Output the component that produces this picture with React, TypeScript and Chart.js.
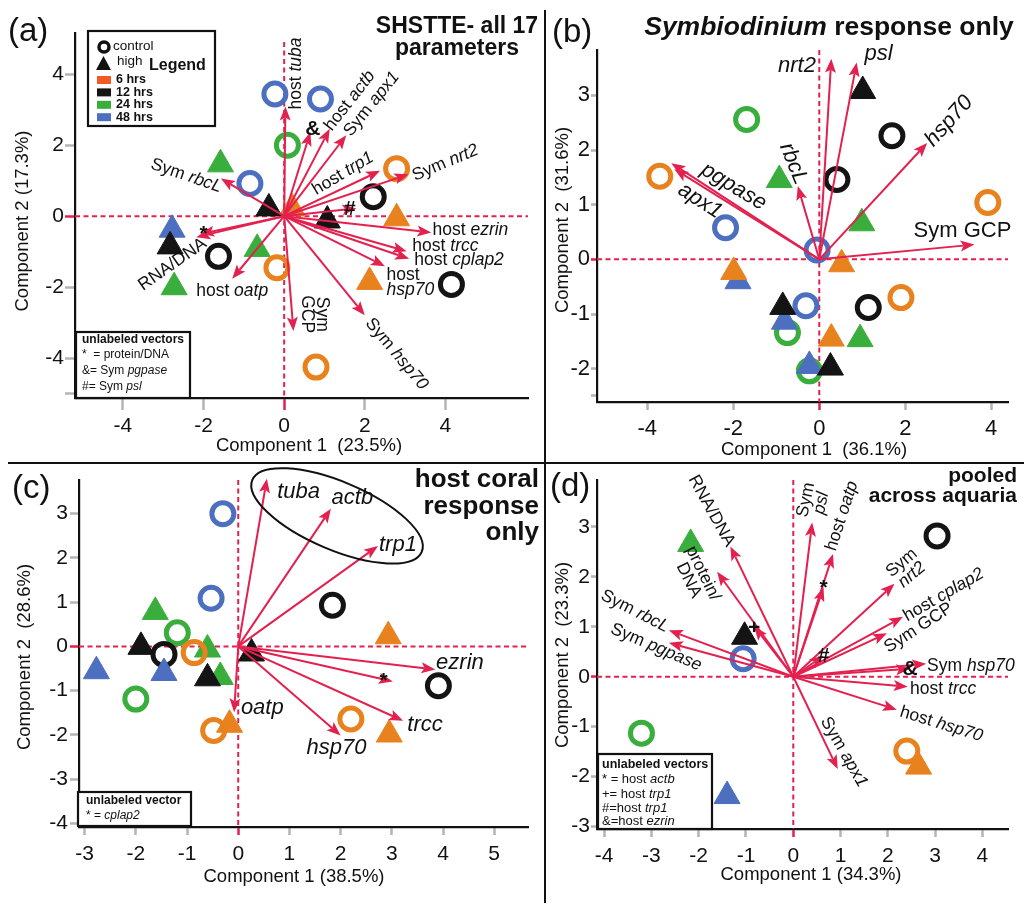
import React, { useEffect, useRef } from 'react';
import { Chart, registerables } from 'chart.js';

Chart.register(...registerables);

const FONT = "'Liberation Sans', Arial, Helvetica, sans-serif";
const RED = '#E3214F';
const INK = '#111111';
const TICK_GRAY = '#b4b4b4';
const HOUR_COLOR: Record<number, string> = { 6: '#E8821E', 12: '#141414', 24: '#3AAE3C', 48: '#4D6FC0' };
const LEGEND_HOURS = [6, 12, 24, 48];
const LEGEND_SWATCH: Record<number, string> = { 6: '#F15A24', 12: '#141414', 24: '#3AAE3C', 48: '#4D6FC0' };

type Pt = [number, number, number];
type Vec = [string, number, number];
type Lbl = [string, number, number, number, ('c' | 'l' | 'r')?];
type Sym = [string, number, number];

// ---------------- Panel (a) ----------------
const A_X_TICKS = [-4, -2, 0, 2, 4];
const A_Y_TICKS = [-4, -2, 0, 2, 4];
const A_Y_MINOR = [-5];
const A_CONTROL: Pt[] = [
  [-0.23, 3.44, 48], [0.9, 3.3, 48], [-0.85, 0.92, 48],
  [0.08, 2.0, 24],
  [2.79, 1.34, 6], [-0.18, -1.45, 6], [0.79, -4.25, 6],
  [2.21, 0.55, 12], [-1.63, -1.13, 12], [4.15, -1.92, 12],
];
const A_HIGH: Pt[] = [
  [-1.58, 1.46, 24], [-0.67, -0.92, 24], [-2.73, -2.0, 24],
  [-2.78, -0.38, 48],
  [-2.83, -0.85, 12], [-0.38, 0.22, 12], [1.07, -0.12, 12],
  [2.79, -0.06, 6], [2.12, -1.85, 6], [0.2, 0.22, 6],
];
const A_VECTORS: Vec[] = [
  ['host tuba', 0.03, 3.09], ['host actb', 1.13, 2.46], ['Sym pgpase', 0.65, 2.37],
  ['Sym apx1', 1.54, 2.28], ['host trp1', 2.38, 1.28], ['Sym nrt2', 3.08, 1.18],
  ['Sym psl', 1.79, 0.22], ['host ezrin', 3.65, -0.46], ['host trcc', 3.04, -0.99],
  ['host cplap2', 3.1, -1.2], ['host hsp70', 2.5, -1.41], ['Sym hsp70', 2.0, -2.79],
  ['Sym GCP', 0.23, -3.23], ['host oatp', -1.29, -1.76], ['RNA/DNA', -2.18, -0.59],
  ['protein/DNA', -2.08, -0.5], ['Sym rbcL', -1.57, 1.06],
];
const A_LABELS: Lbl[] = [
  ['host _tuba_', 0.29, 4.02, -90], ['host _actb_', 1.63, 3.25, -52], ['Sym _apx1_', 2.17, 3.16, -51],
  ['host _trp1_', 1.46, 1.2, -31], ['Sym _nrt2_', 4.0, 1.5, -23],
  ['host _ezrin_', 3.68, -0.38, 0, 'l'], ['host _trcc_', 3.18, -0.83, 0, 'l'],
  ['host _cplap2_', 3.23, -1.24, 0, 'l'], ['host\n_hsp70_', 2.54, -1.87, 0, 'l'],
  ['Sym _hsp70_', 2.79, -3.88, 50], ['Sym\nGCP', 0.75, -2.76, 90], ['host _oatp_', -1.29, -2.11, 0],
  ['RNA/DNA', -2.77, -1.36, -35], ['Sym _rbcL_', -2.43, 1.14, 19],
];
const A_SYMBOLS: Sym[] = [['&', 0.71, 2.46], ['#', 1.63, 0.2], ['*', -2.0, -0.52]];

// ---------------- Panel (b) ----------------
const B_X_TICKS = [-4, -2, 0, 2, 4];
const B_Y_TICKS = [-2, -1, 0, 1, 2, 3];
const B_Y_MINOR = [-2.5];
const B_CONTROL: Pt[] = [
  [-1.69, 2.56, 24], [-3.71, 1.52, 6], [1.69, 2.26, 12], [0.41, 1.46, 12], [3.92, 1.04, 6],
  [-2.18, 0.58, 48], [-0.05, 0.17, 48], [-0.31, -0.85, 48], [1.14, -0.88, 12], [1.9, -0.7, 6],
  [-0.74, -1.34, 24], [-0.23, -2.04, 24],
];
const B_HIGH: Pt[] = [
  [1.01, 3.08, 12], [-0.93, 1.45, 24], [0.99, 0.66, 24], [0.52, -0.09, 6], [-1.99, -0.23, 6],
  [-1.89, -0.4, 48], [-0.85, -0.87, 12], [-0.81, -1.14, 48], [0.28, -1.45, 6], [0.95, -1.46, 24],
  [-0.23, -1.95, 48], [0.26, -1.98, 12],
];
const B_VECTORS: Vec[] = [
  ['nrt2', 0.28, 3.67], ['psl', 0.87, 3.6], ['hsp70', 2.51, 2.13], ['Sym GCP', 3.61, 0.27],
  ['rbcL', -0.5, 1.34], ['pgpase', -3.44, 1.76], ['apx1', -3.37, 1.65],
];
const B_LABELS: Lbl[] = [
  ['_nrt2_', -0.52, 3.54, 0], ['_psl_', 1.38, 3.75, 0], ['_hsp70_', 3.02, 2.53, -48],
  ['Sym GCP', 3.33, 0.52, 0], ['_rbcL_', -0.6, 1.75, 68], ['_pgpase_', -1.99, 1.33, 31],
  ['_apx1_', -2.77, 1.07, 33],
];

// ---------------- Panel (c) ----------------
const C_X_TICKS = [-3, -2, -1, 0, 1, 2, 3, 4, 5];
const C_Y_TICKS = [-4, -3, -2, -1, 0, 1, 2, 3];
const C_CONTROL: Pt[] = [
  [-0.3, 3.0, 48], [-0.53, 1.09, 48], [1.84, 0.93, 12], [-1.19, 0.31, 24], [-0.86, -0.14, 6],
  [-1.45, -0.18, 12], [-2.0, -1.19, 24], [-0.48, -1.9, 6], [2.2, -1.64, 6], [3.91, -0.89, 12],
];
const C_HIGH: Pt[] = [
  [-1.62, 0.78, 24], [-1.9, -0.01, 12], [-2.77, -0.56, 48], [-1.45, -0.6, 48], [-0.6, -0.07, 24],
  [-0.35, -0.69, 24], [-0.6, -0.72, 12], [0.26, -0.16, 12], [2.93, 0.23, 6], [2.95, -1.99, 6],
  [-0.17, -1.77, 6],
];
const C_VECTORS: Vec[] = [
  ['tuba', 0.56, 3.79], ['actb', 1.81, 3.11], ['trp1', 2.73, 2.27], ['ezrin', 3.85, -0.52],
  ['cplap2', 3.02, -0.79], ['trcc', 3.22, -1.68], ['hsp70', 2.0, -2.01], ['oatp', -0.08, -1.49],
];
const C_LABELS: Lbl[] = [
  ['_tuba_', 1.18, 3.49, 0], ['_actb_', 2.23, 3.35, 0], ['_trp1_', 3.12, 2.3, 0],
  ['_ezrin_', 4.33, -0.37, 0], ['_trcc_', 3.65, -1.77, 0], ['_hsp70_', 1.92, -2.3, 0],
  ['_oatp_', 0.47, -1.38, 0],
];
const C_SYMBOLS: Sym[] = [['*', 2.84, -0.78]];
const C_ELLIPSE_CENTER = [1.93, 2.95];

// ---------------- Panel (d) ----------------
const D_X_TICKS = [-4, -3, -2, -1, 0, 1, 2, 3, 4];
const D_Y_TICKS = [-3, -2, -1, 0, 1, 2, 3];
const D_CONTROL: Pt[] = [[3.04, 2.82, 12], [-1.06, 0.36, 48], [-3.21, -1.13, 24], [2.4, -1.49, 6]];
const D_HIGH: Pt[] = [[-2.17, 2.66, 24], [-1.03, 0.8, 12], [2.65, -1.8, 6], [-1.4, -2.39, 48]];
const D_VECTORS: Vec[] = [
  ['RNA/DNA', -1.33, 2.61], ['protein/DNA', -1.61, 2.1], ['Sym rbcL', -2.63, 0.93],
  ['Sym pgpase', -2.63, 0.68], ['host trp1', -0.83, 1.01], ['Sym psl', 0.4, 3.09],
  ['host oatp', 0.84, 2.46], ['host actb', 0.64, 1.79], ['Sym nrt2', 2.14, 1.86],
  ['host cplap2', 2.32, 1.2], ['Sym GCP', 1.98, 0.87], ['host tuba', 0.64, 0.42],
  ['host ezrin', 2.47, 0.16], ['Sym hsp70', 2.81, 0.26], ['host trcc', 2.42, -0.2],
  ['host hsp70', 2.19, -0.66], ['Sym apx1', 0.94, -1.85],
];
const D_LABELS: Lbl[] = [
  ['RNA/DNA', -1.73, 3.32, 61], ['protein/\nDNA', -2.06, 2.0, 64], ['Sym _rbcL_', -3.35, 1.31, 27],
  ['Sym _pgpase_', -2.9, 0.59, 23], ['Sym\n_psl_', 0.43, 3.51, -78], ['host _oatp_', 1.03, 3.22, -72],
  ['Sym\n_nrt2_', 2.4, 2.16, -40], ['host _cplap2_', 3.18, 1.64, -30], ['Sym GCP', 2.65, 0.98, -33],
  ['Sym _hsp70_', 2.83, 0.22, 0, 'l'], ['host _trcc_', 2.47, -0.24, 0, 'l'],
  ['host _hsp70_', 3.13, -0.95, 17], ['Sym _apx1_', 1.07, -1.51, 60],
];
const D_SYMBOLS: Sym[] = [['*', 0.64, 1.77], ['+', -0.83, 0.98], ['#', 0.64, 0.41], ['&', 2.47, 0.16]];

// ---------------- drawing helpers ----------------
function fontStr(size: number, italic: boolean, bold: boolean) {
  return `${italic ? 'italic ' : ''}${bold ? 'bold ' : ''}${size}px ${FONT}`;
}

function drawRich(
  ctx: CanvasRenderingContext2D, text: string, x: number, y: number, rot: number, size: number,
  align: 'c' | 'l' | 'r' = 'c', bold = false, color = INK, lineH = 0.9,
) {
  ctx.save();
  ctx.translate(x, y);
  ctx.rotate((rot * Math.PI) / 180);
  ctx.fillStyle = color;
  ctx.textBaseline = 'middle';
  ctx.textAlign = 'left';
  const lines = text.split('\n');
  const n = lines.length;
  lines.forEach((line, j) => {
    const segs = line.split('_').map((t, k) => ({ t, it: k % 2 === 1 })).filter((s) => s.t.length > 0);
    let total = 0;
    const widths = segs.map((s) => {
      ctx.font = fontStr(size, s.it, bold);
      const w = ctx.measureText(s.t).width;
      total += w;
      return w;
    });
    let cx = align === 'c' ? -total / 2 : align === 'r' ? -total : 0;
    const cy = (j - (n - 1) / 2) * size * lineH;
    segs.forEach((s, k) => {
      ctx.font = fontStr(size, s.it, bold);
      ctx.fillText(s.t, cx, cy);
      cx += widths[k];
    });
  });
  ctx.restore();
}

function drawArrow(ctx: CanvasRenderingContext2D, x0: number, y0: number, x1: number, y1: number) {
  const dx = x1 - x0;
  const dy = y1 - y0;
  const len = Math.hypot(dx, dy);
  if (len < 2) return;
  const ux = dx / len;
  const uy = dy / len;
  const hl = Math.min(14, len * 0.6);
  const hw = 5.5;
  const bx = x1 - ux * hl;
  const by = y1 - uy * hl;
  ctx.strokeStyle = RED;
  ctx.lineWidth = 2;
  ctx.setLineDash([]);
  ctx.beginPath();
  ctx.moveTo(x0, y0);
  ctx.lineTo(bx + ux * 3, by + uy * 3);
  ctx.stroke();
  ctx.fillStyle = RED;
  ctx.beginPath();
  ctx.moveTo(x1, y1);
  ctx.lineTo(bx - uy * hw, by + ux * hw);
  ctx.lineTo(bx + ux * 3, by + uy * 3);
  ctx.lineTo(bx + uy * hw, by - ux * hw);
  ctx.closePath();
  ctx.fill();
}

function frameBox(ctx: CanvasRenderingContext2D, l: number, t: number, r: number, b: number) {
  ctx.save();
  ctx.fillStyle = '#ffffff';
  ctx.fillRect(l, t, r - l, b - t);
  ctx.strokeStyle = INK;
  ctx.lineWidth = 2.2;
  ctx.setLineDash([]);
  ctx.strokeRect(l, t, r - l, b - t);
  ctx.restore();
}

function decorateA(ctx: CanvasRenderingContext2D) {
  drawRich(ctx, '(a)', 8, 32, 0, 33, 'l');
  drawRich(ctx, 'SHSTTE- all 17', 457, 27, 0, 23, 'c', true);
  drawRich(ctx, 'parameters', 457, 49, 0, 23, 'c', true);
  // legend
  frameBox(ctx, 88, 31, 215, 126);
  ctx.save();
  ctx.strokeStyle = INK;
  ctx.lineWidth = 3.5;
  ctx.beginPath();
  ctx.arc(104, 47, 5, 0, Math.PI * 2);
  ctx.stroke();
  ctx.fillStyle = INK;
  ctx.beginPath();
  ctx.moveTo(103.5, 56);
  ctx.lineTo(96, 70);
  ctx.lineTo(111, 70);
  ctx.closePath();
  ctx.fill();
  ctx.restore();
  drawRich(ctx, 'control', 113, 46, 0, 13.5, 'l');
  drawRich(ctx, 'high', 117, 61, 0, 13.5, 'l');
  drawRich(ctx, 'Legend', 149, 66, 0, 16, 'l', true);
  LEGEND_HOURS.forEach((h, i) => {
    const yy = 80 + i * 12.4;
    ctx.fillStyle = LEGEND_SWATCH[h];
    ctx.fillRect(97, yy - 4, 14, 8);
    drawRich(ctx, `${h} hrs`, 116, yy, 0, 12.5, 'l', true);
  });
  // unlabeled vectors box
  frameBox(ctx, 76, 332, 190, 398);
  drawRich(ctx, 'unlabeled vectors', 82, 340, 0, 12, 'l', true);
  drawRich(ctx, '*  = protein/DNA', 82, 355, 0, 12, 'l');
  drawRich(ctx, '&= Sym _pgpase_', 82, 371, 0, 12, 'l');
  drawRich(ctx, '#= Sym _psl_', 82, 387, 0, 12, 'l');
}

function decorateB(ctx: CanvasRenderingContext2D) {
  drawRich(ctx, '(b)', 6, 33, 0, 33, 'l');
  drawRich(ctx, '_Symbiodinium_ response only', 283, 28, 0, 26.5, 'c', true);
}

function decorateC(ctx: CanvasRenderingContext2D, chart: any) {
  drawRich(ctx, '(c)', 12, 25, 0, 33, 'l');
  drawRich(ctx, 'host coral', 539, 16, 0, 26, 'r', true);
  drawRich(ctx, 'response', 539, 43, 0, 26, 'r', true);
  drawRich(ctx, 'only', 539, 69, 0, 26, 'r', true);
  const ex = chart.scales.x.getPixelForValue(C_ELLIPSE_CENTER[0]);
  const ey = chart.scales.y.getPixelForValue(C_ELLIPSE_CENTER[1]);
  ctx.save();
  ctx.strokeStyle = INK;
  ctx.lineWidth = 2;
  ctx.setLineDash([]);
  ctx.beginPath();
  ctx.ellipse(ex, ey, 92, 34, (23 * Math.PI) / 180, 0, Math.PI * 2);
  ctx.stroke();
  ctx.restore();
  frameBox(ctx, 78, 328, 191, 362);
  drawRich(ctx, 'unlabeled vector', 86, 337, 0, 12, 'l', true);
  drawRich(ctx, '* = _cplap2_', 86, 352, 0, 12, 'l');
}

function decorateD(ctx: CanvasRenderingContext2D) {
  drawRich(ctx, '(d)', 4, 23, 0, 33, 'l');
  drawRich(ctx, 'pooled', 471, 12, 0, 21, 'r', true);
  drawRich(ctx, 'across aquaria', 471, 32, 0, 21, 'r', true);
  frameBox(ctx, 52, 290, 166, 365);
  drawRich(ctx, 'unlabeled vectors', 56, 301, 0, 12.5, 'l', true);
  drawRich(ctx, '* = host _actb_', 56, 315, 0, 13, 'l');
  drawRich(ctx, '+= host _trp1_', 56, 330, 0, 13, 'l');
  drawRich(ctx, '#=host _trp1_', 56, 344, 0, 13, 'l');
  drawRich(ctx, '&=host _ezrin_', 56, 357, 0, 13, 'l');
}

interface Panel {
  key: string;
  box: { left: number; top: number; width: number; height: number };
  area: { l: number; t: number; r: number; b: number };
  x: [number, number];
  y: [number, number];
  xTicks: number[];
  yTicks: number[];
  yMinor: number[];
  control: Pt[];
  high: Pt[];
  vectors: Vec[];
  labels: Lbl[];
  symbols: Sym[];
  labelSize: number;
  tickSize: number;
  xTick: [number, number];
  yTick: [number, number];
  xTitle: [string, number, number];
  yTitle: [string, number, number];
  vGap: number;
  decorate: (ctx: CanvasRenderingContext2D, chart: any) => void;
}

const PANELS: Panel[] = [
  {
    key: 'a', box: { left: 0, top: 0, width: 544, height: 462 }, area: { l: 75, t: 33, r: 540, b: 398 },
    x: [-5.19, 6.05], y: [-5.12, 5.16], xTicks: A_X_TICKS, yTicks: A_Y_TICKS, yMinor: A_Y_MINOR,
    control: A_CONTROL, high: A_HIGH, vectors: A_VECTORS, labels: A_LABELS, symbols: A_SYMBOLS,
    labelSize: 17.5, tickSize: 21, xTick: [12, 4], yTick: [10, 1],
    xTitle: ['Component 1  (23.5%)', 309, 446], yTitle: ['Component 2 (17.3%)', 22.5, 221],
    vGap: 9, decorate: decorateA,
  },
  {
    key: 'b', box: { left: 546, top: 0, width: 478, height: 462 }, area: { l: 51, t: 50, r: 464, b: 402 },
    x: [-5.17, 4.39], y: [-2.61, 3.83], xTicks: B_X_TICKS, yTicks: B_Y_TICKS, yMinor: B_Y_MINOR,
    control: B_CONTROL, high: B_HIGH, vectors: B_VECTORS, labels: B_LABELS, symbols: [],
    labelSize: 22, tickSize: 22, xTick: [8, 6], yTick: [6, 1],
    xTitle: ['Component 1  (36.1%)', 268, 450], yTitle: ['Component 2  (31.6%)', 16.5, 220],
    vGap: 0, decorate: decorateB,
  },
  {
    key: 'c', box: { left: 0, top: 464, width: 544, height: 446 }, area: { l: 79, t: 14, r: 540, b: 363 },
    x: [-3.11, 5.66], y: [-4.08, 3.76], xTicks: C_X_TICKS, yTicks: C_Y_TICKS, yMinor: [],
    control: C_CONTROL, high: C_HIGH, vectors: C_VECTORS, labels: C_LABELS, symbols: C_SYMBOLS,
    labelSize: 22, tickSize: 21, xTick: [8, 6.5], yTick: [9, 2],
    xTitle: ['Component 1 (38.5%)', 294, 413], yTitle: ['Component 2  (28.6%)', 25, 193],
    vGap: 0, decorate: decorateC,
  },
  {
    key: 'd', box: { left: 546, top: 464, width: 478, height: 446 }, area: { l: 51, t: 11, r: 469, b: 365 },
    x: [-4.15, 4.54], y: [-3.05, 3.94], xTicks: D_X_TICKS, yTicks: D_Y_TICKS, yMinor: [],
    control: D_CONTROL, high: D_HIGH, vectors: D_VECTORS, labels: D_LABELS, symbols: D_SYMBOLS,
    labelSize: 17.5, tickSize: 21, xTick: [8, 6.5], yTick: [6, 1],
    xTitle: ['Component 1 (34.3%)', 265, 411], yTitle: ['Component 2  (23.3%)', 17, 191],
    vGap: 0, decorate: decorateD,
  },
];

function makePlugin(p: Panel) {
  return {
    id: 'panel_' + p.key,
    beforeDatasetsDraw(chart: any) {
      const { ctx, chartArea: a, scales } = chart;
      const px = scales.x.getPixelForValue(0);
      const py = scales.y.getPixelForValue(0);
      ctx.save();
      ctx.strokeStyle = RED;
      ctx.lineWidth = 2;
      ctx.setLineDash([5, 3.5]);
      ctx.beginPath();
      ctx.moveTo(px, a.top + p.vGap);
      ctx.lineTo(px, a.bottom);
      ctx.stroke();
      ctx.beginPath();
      ctx.moveTo(a.left, py);
      ctx.lineTo(a.right, py);
      ctx.stroke();
      ctx.restore();
    },
    afterDatasetsDraw(chart: any) {
      const { ctx, scales } = chart;
      const sx = scales.x;
      const sy = scales.y;
      const ox = sx.getPixelForValue(0);
      const oy = sy.getPixelForValue(0);
      ctx.save();
      p.vectors.forEach((v) => drawArrow(ctx, ox, oy, sx.getPixelForValue(v[1]), sy.getPixelForValue(v[2])));
      p.labels.forEach((l) =>
        drawRich(ctx, l[0], sx.getPixelForValue(l[1]), sy.getPixelForValue(l[2]), l[3], p.labelSize, l[4] || 'c'),
      );
      p.symbols.forEach((s) =>
        drawRich(ctx, s[0], sx.getPixelForValue(s[1]), sy.getPixelForValue(s[2]), 0, 21, 'c', true),
      );
      p.decorate(ctx, chart);
      drawRich(ctx, p.xTitle[0], p.xTitle[1], p.xTitle[2], 0, 18.5, 'c');
      drawRich(ctx, p.yTitle[0], p.yTitle[1], p.yTitle[2], -90, 18.5, 'c');
      ctx.restore();
    },
  };
}

function buildConfig(p: Panel): any {
  const order: [number, 'c' | 't'][] = [
    [6, 'c'], [12, 't'], [6, 't'], [48, 't'], [24, 't'], [12, 'c'], [48, 'c'], [24, 'c'],
  ];
  const datasets = order.map(([h, kind]) => {
    const src = kind === 'c' ? p.control : p.high;
    const col = HOUR_COLOR[h];
    return {
      label: `${kind === 'c' ? 'control' : 'high'} ${h} hrs`,
      data: src.filter((d) => d[2] === h).map((d) => ({ x: d[0], y: d[1] })),
      pointStyle: kind === 'c' ? 'circle' : 'triangle',
      pointRadius: kind === 'c' ? 11 : 15,
      pointBorderWidth: kind === 'c' ? 5 : 1,
      pointBackgroundColor: kind === 'c' ? 'rgba(0,0,0,0)' : col,
      pointBorderColor: col,
      borderColor: col,
      backgroundColor: col,
      showLine: false,
    };
  });
  const tickColor = (c: any) => (c.tick && c.tick.value === 0 ? RED : TICK_GRAY);
  const zeroPad = (s: any) => {
    s.paddingLeft = 0;
    s.paddingRight = 0;
    s.paddingTop = 0;
    s.paddingBottom = 0;
  };
  return {
    type: 'scatter',
    data: { datasets },
    options: {
      responsive: false,
      animation: false,
      events: [],
      layout: { padding: { left: 0, top: p.area.t, right: p.box.width - p.area.r, bottom: 0 } },
      plugins: { legend: { display: false }, tooltip: { enabled: false } },
      scales: {
        x: {
          type: 'linear',
          position: 'bottom',
          min: p.x[0],
          max: p.x[1],
          bounds: 'data',
          afterBuildTicks: (s: any) => {
            s.ticks = p.xTicks.map((v) => ({ value: v }));
          },
          afterFit: (s: any) => {
            s.height = p.box.height - p.area.b;
            zeroPad(s);
          },
          ticks: {
            autoSkip: false,
            maxRotation: 0,
            minRotation: 0,
            padding: p.xTick[1],
            color: INK,
            font: { family: FONT, size: p.tickSize },
            callback: (v: number) => String(v),
          },
          grid: {
            display: true,
            drawOnChartArea: false,
            drawTicks: true,
            tickLength: p.xTick[0],
            tickWidth: 2.5,
            tickColor,
            color: 'rgba(0,0,0,0)',
          },
          border: { display: true, color: INK, width: 2.2 },
          title: { display: false },
        },
        y: {
          type: 'linear',
          position: 'left',
          min: p.y[0],
          max: p.y[1],
          bounds: 'data',
          afterBuildTicks: (s: any) => {
            s.ticks = [...p.yMinor, ...p.yTicks].sort((a, b) => a - b).map((v) => ({ value: v }));
          },
          afterFit: (s: any) => {
            s.width = p.area.l;
            zeroPad(s);
          },
          ticks: {
            autoSkip: false,
            padding: p.yTick[1],
            color: INK,
            font: { family: FONT, size: p.tickSize },
            callback: (v: number) => (p.yTicks.includes(v) ? String(v) : ''),
          },
          grid: {
            display: true,
            drawOnChartArea: false,
            drawTicks: true,
            tickLength: p.yTick[0],
            tickWidth: 2.5,
            tickColor,
            color: 'rgba(0,0,0,0)',
          },
          border: { display: true, color: INK, width: 2.2 },
          title: { display: false },
        },
      },
    },
    plugins: [makePlugin(p)],
  };
}

function PanelChart({ p }: { p: Panel }) {
  const ref = useRef<HTMLCanvasElement>(null);
  useEffect(() => {
    const canvas = ref.current;
    if (!canvas) return;
    const chart = new Chart(canvas, buildConfig(p));
    return () => chart.destroy();
  }, [p]);
  return (
    <div style={{ position: 'absolute', left: p.box.left, top: p.box.top, width: p.box.width, height: p.box.height }}>
      <canvas
        ref={ref}
        width={p.box.width}
        height={p.box.height}
        style={{ display: 'block', width: p.box.width, height: p.box.height }}
      />
    </div>
  );
}

export default function App() {
  return (
    <div
      style={{
        position: 'absolute',
        left: 0,
        top: 0,
        width: 1024,
        height: 910,
        background: '#ffffff',
        overflow: 'hidden',
      }}
    >
      {PANELS.map((p) => (
        <PanelChart key={p.key} p={p} />
      ))}
      <div style={{ position: 'absolute', left: 543.8, top: 10, width: 2.5, height: 893, background: INK }} />
      <div style={{ position: 'absolute', left: 8, top: 461.8, width: 1016, height: 2.5, background: INK }} />
    </div>
  );
}
